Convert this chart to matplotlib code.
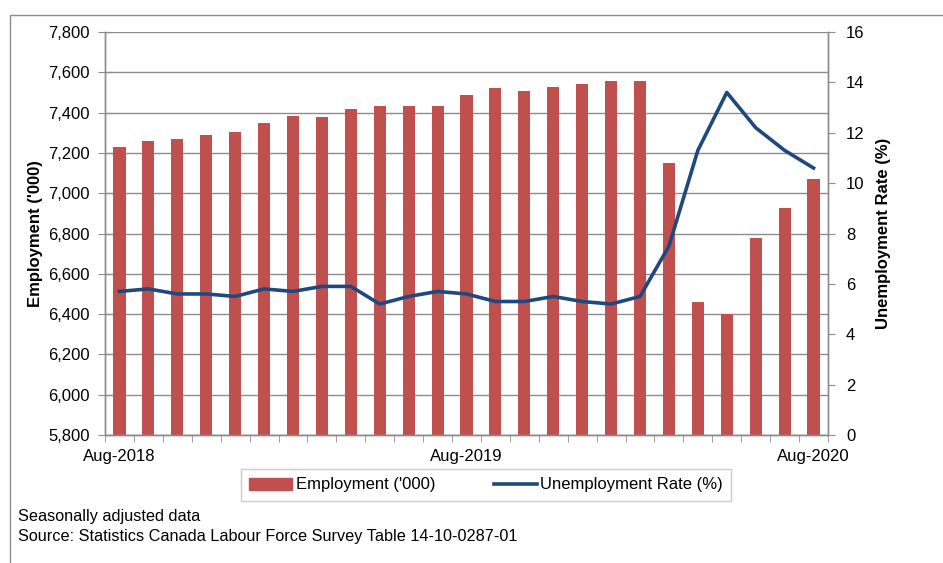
import matplotlib.pyplot as plt
from matplotlib.patches import Rectangle
from matplotlib.lines import Line2D
from matplotlib.ticker import FuncFormatter

plt.rcParams['font.family'] = ['Liberation Sans', 'DejaVu Sans']

MONTHS = ["Aug-2018", "Sep-2018", "Oct-2018", "Nov-2018", "Dec-2018",
          "Jan-2019", "Feb-2019", "Mar-2019", "Apr-2019", "May-2019",
          "Jun-2019", "Jul-2019", "Aug-2019", "Sep-2019", "Oct-2019",
          "Nov-2019", "Dec-2019", "Jan-2020", "Feb-2020", "Mar-2020",
          "Apr-2020", "May-2020", "Jun-2020", "Jul-2020", "Aug-2020"]
EMPLOYMENT = [7230, 7260, 7270, 7290, 7305, 7348, 7383, 7378, 7420, 7435,
              7432, 7432, 7485, 7520, 7508, 7528, 7543, 7558, 7555, 7150,
              6460, 6400, 6780, 6925, 7070]
UNEMP_RATE = [5.7, 5.8, 5.6, 5.6, 5.5, 5.8, 5.7, 5.9, 5.9, 5.2,
              5.5, 5.7, 5.6, 5.3, 5.3, 5.5, 5.3, 5.2, 5.5, 7.5,
              11.3, 13.6, 12.2, 11.3, 10.6]
LABELED = ["Aug-2018", "Aug-2019", "Aug-2020"]

BAR_COLOR = "#C0504D"
LINE_COLOR = "#1F497D"
GRID = "#8C8C8C"

fig = plt.figure(figsize=(9.43, 5.63), dpi=100)
ax = fig.add_axes([105 / 943, 1 - 435 / 563, 723 / 943, 403 / 563])
ax2 = ax.twinx()

x = list(range(len(MONTHS)))
ax.bar(x, EMPLOYMENT, width=0.42, color=BAR_COLOR, zorder=2)
ax.set_ylim(5800, 7800)
ax.set_yticks(range(5800, 7801, 200))
ax.yaxis.set_major_formatter(FuncFormatter(lambda v, p: f"{int(v):,}"))
ax.set_xlim(-0.5, len(MONTHS) - 0.5)
ax.yaxis.grid(True, color=GRID, linewidth=1.0, zorder=0)
ax.set_axisbelow(True)

ax.set_xticks([MONTHS.index(m) for m in LABELED])
ax.set_xticklabels(LABELED, fontsize=12)
ax.set_xticks([i - 0.5 for i in range(len(MONTHS) + 1)], minor=True)
ax.tick_params(axis='x', which='major', length=0, pad=10)
ax.tick_params(axis='x', which='minor', length=5, color=GRID, direction='out')
ax.tick_params(axis='y', direction='inout', length=10, color=GRID, labelsize=12, pad=6)

ax2.plot(x, UNEMP_RATE, color=LINE_COLOR, linewidth=2.6, zorder=3)
ax2.set_ylim(0, 16)
ax2.set_yticks(range(0, 17, 2))
ax2.tick_params(axis='y', direction='out', length=5, color=GRID, labelsize=12, pad=8)

for a in (ax, ax2):
    a.spines['top'].set_visible(False)
    for s in ('left', 'right', 'bottom'):
        a.spines[s].set_color(GRID)
        a.spines[s].set_linewidth(1.0)

ax.set_ylabel("Employment ('000)", fontsize=12, fontweight='bold', labelpad=4)
ax2.set_ylabel("Unemployment Rate (%)", fontsize=12, fontweight='bold', labelpad=8)

handles = [Rectangle((0, 0), 1, 1, color=BAR_COLOR),
           Line2D([], [], color=LINE_COLOR, linewidth=2.6)]
fig.legend(handles, ["Employment ('000)", "Unemployment Rate (%)"],
           loc='center', bbox_to_anchor=(486 / 943, 1 - 485 / 563), ncol=2,
           fontsize=12, frameon=True, fancybox=False, edgecolor="#BFBFBF",
           handlelength=2.6, handletextpad=0.2, columnspacing=3.5,
           borderpad=0.5, bbox_transform=fig.transFigure)

fig.text(18 / 943, 1 - 516 / 563, "Seasonally adjusted data", fontsize=11.7, va='center')
fig.text(18 / 943, 1 - 537 / 563, "Source: Statistics Canada Labour Force Survey Table 14-10-0287-01",
         fontsize=11.7, va='center')

# outer chart frame
fig.patches.append(Rectangle((10 / 943, -0.1), 1.2, 1 - 15 / 563 + 0.1, transform=fig.transFigure,
                             fill=False, edgecolor=GRID, linewidth=1.0))

fig.savefig("out.png", dpi=100)
